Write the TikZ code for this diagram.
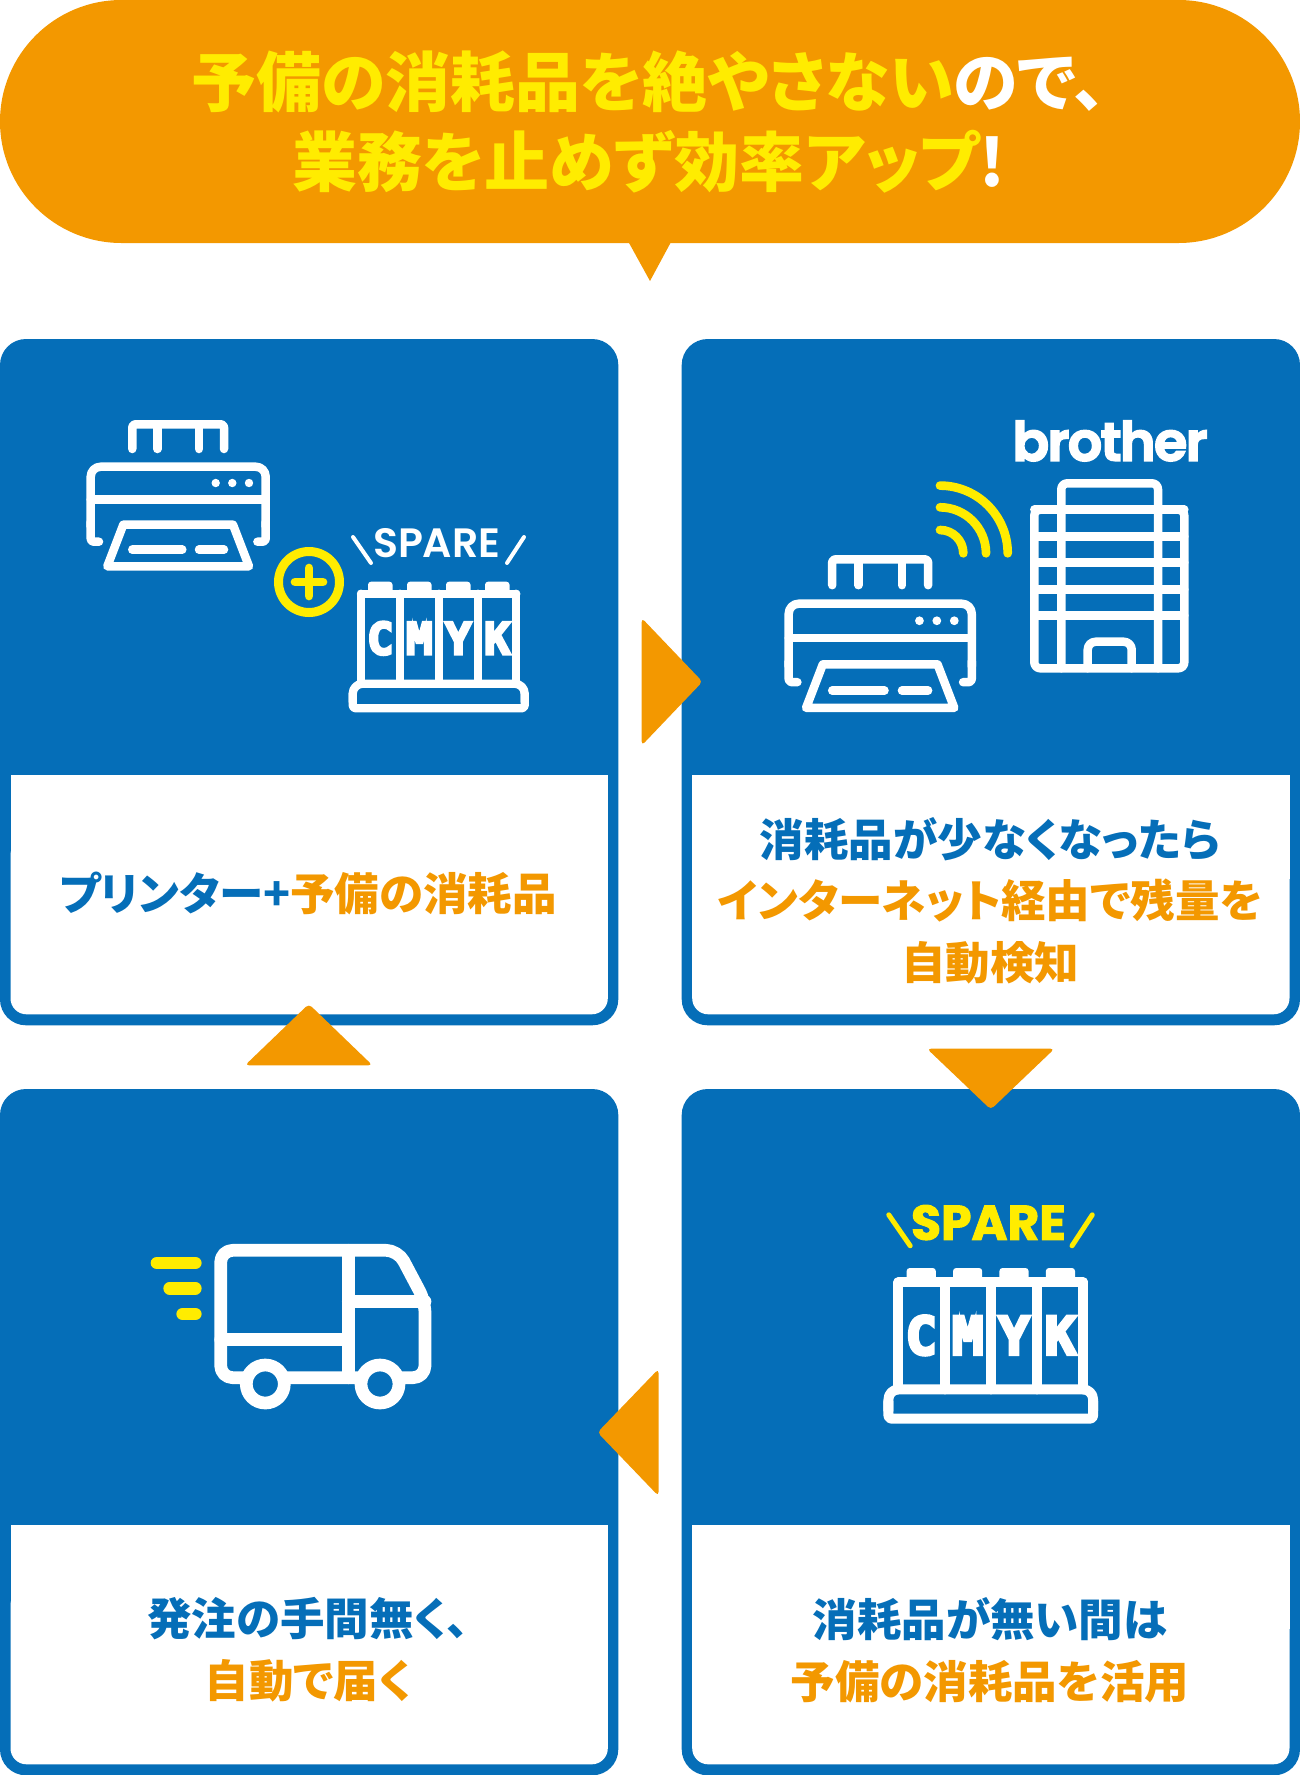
\documentclass[tikz,border=0pt]{standalone}
\usepackage{fontspec}
\newfontfamily\jpblack{Noto Sans CJK JP}[UprightFont=* Black, RawFeature={+palt}]
\newfontfamily\sparethin{Poppins}[UprightFont=* SemiBold]
\newfontfamily\sparebold{Poppins}[UprightFont=* Bold, FakeBold=2]
\newfontfamily\logofont{Poppins}[UprightFont=* SemiBold, LetterSpace=-3, FakeBold=3]
\newfontfamily\inkfont{DejaVu Sans Mono}[UprightFont=* Bold, FakeBold=6]
\definecolor{cardblue}{HTML}{056EB8}
\definecolor{noteorange}{HTML}{F39800}
\definecolor{markyellow}{HTML}{FFEC00}
\tikzset{
  iconline/.style={draw=white, line width=#1, line cap=round, line join=round},
  iconline/.default=8.5pt,
  markline/.style={draw=markyellow, line width=#1, line cap=round},
  markline/.default=8.7pt,
  headtext/.style={font=\jpblack\fontsize{65}{80}\selectfont, align=center, inner sep=0pt, text=markyellow},
  cardtext/.style={font=\jpblack\fontsize{44.5}{61.7}\selectfont, align=center, inner sep=0pt},
  turnmark/.style={fill=noteorange, rounded corners=4pt}
}
% プリンター
\newcommand{\printericon}{
  \draw[iconline, rounded corners=3pt] (41.6,-17.7) -- (41.6,-42.4) -- (133.3,-42.4) -- (133.3,-17.7);
  \draw[iconline] (66.6,-42.4) -- (66.6,-17.7) (108.3,-42.4) -- (108.3,-17.7);
  \draw[iconline, rounded corners=10pt] (0,60) -- (0,0) -- (175,0) -- (175,60);
  \draw[iconline, rounded corners=3pt] (0,55) -- (0,75) -- (8.3,75) (175,55) -- (175,75) -- (166.7,75);
  \draw[iconline] (0,33) -- (175,33);
  \foreach \dotx in {125,141.6,158.3}
    \fill[white] (\dotx,16.3) circle (4.2);
  \draw[iconline] (32.6,58) -- (142.3,58) -- (158.3,99.6) -- (16.6,99.6) -- cycle;
  \draw[iconline] (41.6,83) -- (91.6,83) (108.3,83) -- (133.3,83);
}
% インク: #1 名前, #2 線幅, #3 斜線幅, #4 字体, #5 色
\newcommand{\inkicon}[5]{
  \foreach \tabx in {7,46,85,124}
    \fill[white, rounded corners=3pt] (\tabx,-12) rectangle ++(24.5,14);
  \draw[iconline=#2] (0,0) -- (155.3,0);
  \foreach \barx in {0,39,78,116.7,155.3}
    \draw[iconline=#2] (\barx,0) -- (\barx,90);
  \draw[iconline=#2, rounded corners=10pt] (-8.3,108) -- (-8.3,90) -- (163.7,90) -- (163.7,108);
  \draw[iconline=#2, rounded corners=3pt] (-8.3,100) -- (-8.3,114.6) -- (163.7,114.6) -- (163.7,100);
  \draw[draw=#5, line width=#3, line cap=round] (-8,-56.7) -- (10,-30.7) (163,-56.7) -- (146,-30.7);
  \node[transform shape, inner sep=0pt, text=#5, font=#4\fontsize{41}{41}\selectfont] (#1spare) at (75.7,-50.2) {SPARE};
  \foreach \inkx/\inkname in {19.3/C,58.3/M,97.3/Y,136.3/K}
    \node[transform shape, inner sep=0pt, text=white, font=\inkfont\fontsize{44}{44}\selectfont] (#1\inkname) at (\inkx,44.6) {\inkname};
}
\begin{document}
\begin{tikzpicture}[x=1pt, y=-1pt]
  \useasboundingbox (0,0) rectangle (1300,1775);
  % 吹き出し
  \fill[noteorange, rounded corners=121.5pt] (0,0) rectangle (1300,243);
  \fill[noteorange] (628.5,242) -- (650,281) -- (671,242) -- cycle;
  \node[headtext] (headline) at (649,122) {予備の消耗品を絶やさない\textcolor{white}{ので、}\\業務を止めず効率アップ\textcolor{white}{!}};
  % カード
  \foreach \cardx/\cardy in {0/339,681.7/339,0/1089,681.7/1089} {
    \begin{scope}[shift={(\cardx,\cardy)}]
      \fill[cardblue, rounded corners=26pt] (0,0) rectangle (618.3,686.3);
      \fill[white, rounded corners=16pt] (10.5,500) rectangle (607.8,675.3);
      \fill[white] (10.5,436) rectangle (607.8,540);
    \end{scope}
  }
  \node[cardtext] (firstlabel) at (308,893) {\textcolor{cardblue}{プリンター+}\textcolor{noteorange}{予備の消耗品}};
  \node[cardtext] (secondlabel) at (990,900.5) {\textcolor{cardblue}{消耗品が少なくなったら}\\\textcolor{noteorange}{インターネット経由で残量を}\\\textcolor{noteorange}{自動検知}};
  \node[cardtext] (thirdlabel) at (990,1650) {\textcolor{cardblue}{消耗品が無い間は}\\\textcolor{noteorange}{予備の消耗品を活用}};
  \node[cardtext] (fourthlabel) at (308,1650) {\textcolor{cardblue}{発注の手間無く、}\\\textcolor{noteorange}{自動で届く}};
  % 矢印
  \fill[turnmark] (641.7,618) -- (702.5,681.7) -- (641.7,745.5) -- cycle;
  \fill[turnmark] (927,1048.7) -- (990.8,1109.5) -- (1054.5,1048.7) -- cycle;
  \fill[turnmark] (658.5,1369) -- (597.5,1432.4) -- (658.5,1496) -- cycle;
  \fill[turnmark] (245,1065.3) -- (308.8,1004) -- (372.5,1065.3) -- cycle;
  % 1枚目
  \begin{scope}[shift={(90.7,466.7)}]
    \printericon
  \end{scope}
  \draw[markline=9pt] (309,582) circle (30.5);
  \draw[markline] (295,582) -- (323,582) (309,568) -- (309,596);
  \begin{scope}[shift={(361,593.7)}]
    \inkicon{first}{8.3pt}{4pt}{\sparethin}{white}
  \end{scope}
  % 2枚目
  \begin{scope}[shift={(788.7,603.7)}, scale=1.046]
    \printericon
  \end{scope}
  \draw[markline] (940,485.6) arc[start angle=90, end angle=0, radius=67.7pt];
  \draw[markline] (940,507.3) arc[start angle=90, end angle=0, radius=46pt];
  \draw[markline] (940,530) arc[start angle=90, end angle=0, radius=23.3pt];
  \node[inner sep=0pt, text=white, font=\logofont\fontsize{54}{54}\selectfont] (logo) at (1110,441) {brother};
  \draw[iconline, rounded corners=6pt] (1061.3,668.3) -- (1061.3,483.3) -- (1158,483.3) -- (1158,668.3);
  \draw[iconline, rounded corners=6pt] (1034.3,509.7) rectangle (1184.3,668.3);
  \foreach \floory in {509.7,536.3,562.7,589.3,615.7}
    \draw[iconline] (1034.3,\floory) -- (1184.3,\floory);
  \draw[iconline, rounded corners=8pt] (1087.7,668.3) -- (1087.7,641.7) -- (1131.7,641.7) -- (1131.7,668.3);
  % 3枚目
  \begin{scope}[shift={(898.3,1282.3)}, scale=1.19]
    \inkicon{third}{9.9pt}{5pt}{\sparebold}{markyellow}
  \end{scope}
  % 4枚目
  \draw[iconline=12.7pt, rounded corners=12pt] (425,1301.3) -- (398,1250.3) -- (220.7,1250.3) -- (220.7,1377.7) -- (425,1377.7) -- cycle;
  \draw[iconline=12.7pt] (348.3,1250.3) -- (348.3,1377.7);
  \draw[iconline=12.7pt] (220.7,1339.7) -- (348.3,1339.7);
  \draw[iconline=12.7pt] (348.3,1301.3) -- (425,1301.3);
  \foreach \wheelx in {265.3,380}
    \draw[iconline=12.7pt, fill=cardblue] (\wheelx,1384) circle (19);
  \draw[markline=12.7pt] (157,1263) -- (195.3,1263);
  \draw[markline=12.7pt] (169.7,1288.3) -- (195.3,1288.3);
  \draw[markline=12.7pt] (182.7,1314) -- (195.3,1314);
\end{tikzpicture}
\end{document}
